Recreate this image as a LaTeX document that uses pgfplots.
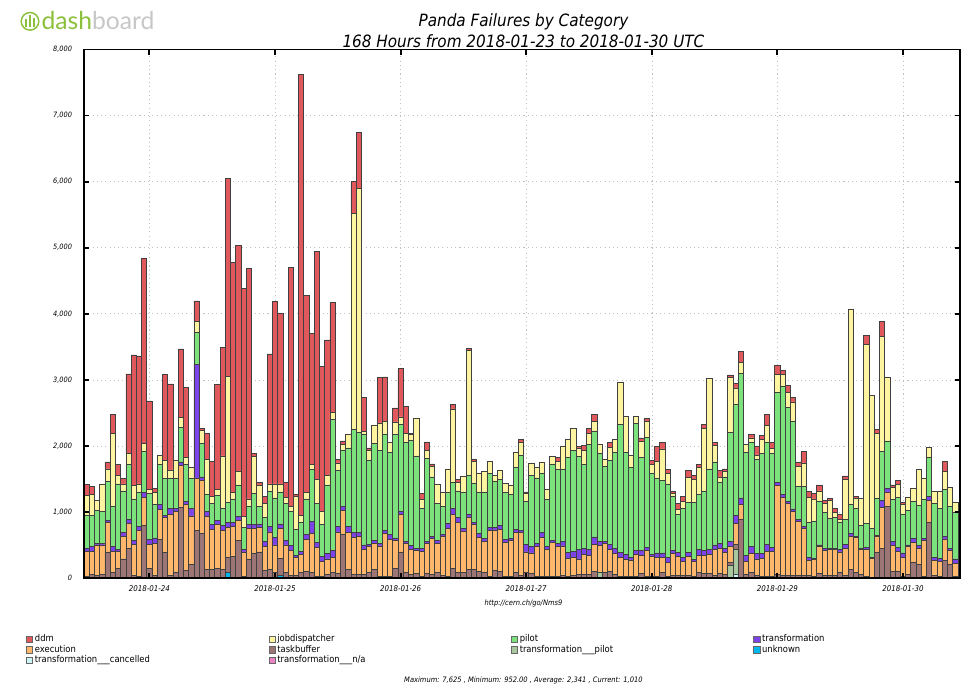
\documentclass[border=0pt]{standalone}
\usepackage{fontspec}
\setmainfont{DejaVu Sans Condensed}[ItalicFont={DejaVu Sans Condensed Oblique}]
\newfontfamily\logofont{Lato}
\usepackage{pgfplots}
\pgfplotsset{compat=1.18}
\usepackage{pgfplotstable}
\definecolor{cddm}{RGB}{224,88,92}
\definecolor{cexe}{RGB}{255,183,107}
\definecolor{cjob}{RGB}{255,245,160}
\definecolor{ctask}{RGB}{158,117,117}
\definecolor{cpil}{RGB}{124,226,124}
\definecolor{ctpil}{RGB}{170,200,160}
\definecolor{ctra}{RGB}{124,67,232}
\definecolor{cunk}{RGB}{0,183,235}
\definecolor{ctcan}{RGB}{204,246,245}
\definecolor{ctna}{RGB}{240,130,200}
\definecolor{logogreen}{RGB}{140,192,60}
\pgfplotsset{sq legend/.style={legend image code/.code={\draw[##1] (0pt,-2.3pt) rectangle (4.6pt,2.3pt);}},
  base/.style={at={(63pt,81pt)}, anchor=south west, scale only axis,
  width=657pt, height=396.4pt, enlargelimits=false,
  xmin=0, xmax=167.4, ymin=0, ymax=8000,
  xtick={12.5,36.5,60.5,84.5,108.5,132.5,156.5},
  ytick={0,1000,...,8000},
  major tick length=3.8pt,
  tick style={line width=1.4pt, black},
  axis line style={line width=0.9pt}}}
\pgfplotstableread{
x un tc tp tb ex tr pi jd ddm
0.5 0 0 0 20 380 42 512 290 174
1.5 0 0 0 53 354 69 475 317 121
2.5 0 0 0 37 464 26 501 148 0
3.5 0 0 0 53 449 26 475 422 0
4.5 0 0 0 396 449 26 591 190 106
5.5 0 0 0 79 327 69 607 1108 280
6.5 0 0 0 142 264 32 987 132 158
7.5 0 0 0 290 343 53 633 106 79
8.5 0 0 0 449 380 53 834 169 1203
9.5 0 0 0 37 475 58 628 200 1979
10.5 0 0 0 26 697 53 528 121 1937
11.5 0 0 0 792 422 79 617 132 2797
12.5 0 0 0 142 369 69 697 69 1335
13.5 0 0 0 42 485 79 512 174 63
14.5 0 0 0 580 464 74 596 148 0
15.5 0 0 0 385 528 37 554 274 1298
16.5 0 0 0 42 923 90 459 121 1303
17.5 0 0 0 90 913 53 449 274 0
18.5 0 0 0 1066 639 53 522 148 1040
19.5 0 0 0 121 997 42 554 116 1055
20.5 0 0 0 211 728 116 449 169 0
21.5 0 0 0 723 792 1720 485 169 306
22.5 0 0 0 675 802 53 512 190 26
23.5 0 0 0 132 802 69 264 528 396
24.5 0 0 0 132 607 69 327 95 538
25.5 0 0 0 142 675 53 380 95 1583
26.5 0 0 0 132 591 69 264 792 1636
27.5 79 0 0 237 449 79 301 1900 3008
28.5 0 0 0 332 443 69 354 95 3483
29.5 0 0 0 570 301 63 475 200 3419
30.5 0 0 0 26 369 42 327 169 3446
31.5 0 0 0 290 464 63 274 106 3488
32.5 0 0 0 369 385 63 464 565 37
33.5 0 0 0 396 369 53 264 327 32
34.5 0 0 0 121 354 79 369 211 106
35.5 0 0 0 132 565 79 533 116 1968
36.5 0 0 0 79 422 116 596 211 2760
37.5 37 0 0 264 454 63 485 121 2586
38.5 0 0 0 79 422 69 565 79 237
39.5 0 0 0 42 380 69 512 79 3615
40.5 0 0 0 37 269 37 396 491 37
41.5 0 0 0 79 280 47 438 106 6675
42.5 0 0 0 106 475 79 538 95 2981
43.5 0 0 0 79 591 190 786 79 1979
44.5 0 0 0 26 433 84 591 359 3451
45.5 0 0 0 26 227 79 475 195 2206
46.5 0 0 0 53 237 79 1040 148 2047
47.5 0 0 0 79 237 106 1979 106 1662
48.5 0 0 0 69 628 79 850 116 53
49.5 0 0 0 660 359 63 855 84 53
50.5 0 0 0 132 554 90 1193 211 0
51.5 0 0 0 53 565 69 1557 3272 485
52.5 0 0 0 53 580 53 1515 3694 844
53.5 0 0 0 53 385 63 1673 42 512
54.5 0 0 0 90 385 37 1266 158 32
55.5 0 0 0 132 396 42 1462 280 0
56.5 0 0 0 26 459 42 1398 422 686
57.5 0 0 0 26 649 47 1451 200 670
58.5 0 0 0 26 554 79 1240 148 11
59.5 0 0 0 142 422 42 1567 190 211
60.5 0 0 0 396 565 53 1309 116 728
61.5 0 0 0 79 449 26 1504 132 406
62.5 0 0 0 53 380 58 1594 90 16
63.5 0 0 0 69 354 26 1398 570 0
64.5 0 0 0 26 380 42 607 132 95
65.5 0 0 0 69 449 37 1251 121 132
66.5 0 0 0 53 544 37 897 158 37
67.5 0 0 0 79 449 37 570 290 0
68.5 0 0 0 42 591 26 422 211 0
69.5 0 0 0 26 728 74 464 359 0
70.5 0 0 0 142 823 90 396 1108 63
71.5 0 0 0 79 765 79 396 132 42
72.5 0 0 0 79 633 42 538 253 0
73.5 0 0 0 132 792 42 591 1884 32
74.5 0 0 0 132 675 37 596 327 26
75.5 0 0 0 106 512 53 633 280 0
76.5 0 0 0 79 475 42 707 306 0
77.5 0 0 0 26 697 42 818 185 0
78.5 0 0 0 121 607 37 697 95 0
79.5 0 0 0 106 633 53 702 142 0
80.5 0 0 0 26 517 37 712 142 0
81.5 0 0 0 26 538 32 670 142 0
82.5 0 0 0 79 607 53 934 227 0
83.5 0 0 0 42 644 37 1140 185 47
84.5 0 0 0 79 317 116 649 116 26
85.5 0 0 0 69 311 95 1082 185 0
86.5 0 0 0 26 449 53 987 164 0
87.5 0 0 0 26 591 69 897 174 0
88.5 0 0 0 26 412 37 712 158 0
89.5 0 0 0 26 517 26 1145 121 0
90.5 0 0 0 26 449 53 1124 116 53
91.5 0 0 0 42 443 69 1098 338 0
92.5 0 0 0 26 274 84 1435 280 0
93.5 0 0 0 37 269 100 1520 332 0
94.5 0 0 0 53 237 148 1398 132 21
95.5 0 0 0 53 306 90 1266 222 69
96.5 0 0 0 53 290 90 1583 174 69
97.5 0 0 0 106 406 111 1604 148 95
98.5 0 0 79 0 412 63 1335 127 0
99.5 0 0 0 79 449 26 1135 106 0
100.5 0 0 0 106 332 74 1272 195 69
101.5 0 0 0 53 317 79 1451 195 0
102.5 0 0 0 26 280 79 1937 644 0
103.5 0 0 0 26 253 79 1541 544 0
104.5 0 0 0 26 248 32 1367 190 0
105.5 0 0 0 26 327 69 1916 116 0
106.5 0 0 0 69 274 79 1398 253 47
107.5 0 0 0 26 396 37 1668 237 53
108.5 0 0 0 26 306 21 1230 142 53
109.5 0 0 0 26 290 63 1124 264 222
110.5 0 0 0 90 227 63 1098 475 95
111.5 0 0 0 26 211 79 1108 158 63
112.5 0 0 0 37 332 53 807 53 26
113.5 0 0 0 42 290 53 580 74 95
114.5 0 0 0 42 211 53 749 106 79
115.5 0 0 0 42 285 58 760 375 106
116.5 0 0 0 26 227 26 865 343 69
117.5 0 0 0 90 253 90 834 406 42
118.5 0 0 0 69 274 79 897 939 63
119.5 0 0 0 69 290 79 1214 1372 0
120.5 0 0 0 42 396 63 1256 248 42
121.5 0 0 0 69 380 79 913 90 95
122.5 0 0 0 53 332 63 1082 79 42
123.5 0 0 195 42 237 79 1646 834 42
124.5 0 53 385 74 317 121 1673 253 63
125.5 0 0 0 881 237 95 1884 164 169
126.5 0 0 0 53 201 90 1557 121 0
127.5 0 0 0 79 290 106 1583 63 53
128.5 0 0 0 42 248 79 1425 69 127
129.5 0 0 0 26 274 69 1515 216 63
130.5 0 0 0 26 380 106 1546 248 164
131.5 0 0 0 26 380 53 1425 79 95
132.5 0 0 0 53 1346 53 1361 264 142
133.5 0 0 0 42 1182 42 1636 174 63
134.5 0 0 0 42 1092 26 1425 227 106
135.5 0 0 0 42 971 32 1319 301 69
136.5 0 0 0 42 818 26 496 306 69
137.5 0 0 0 42 707 26 612 354 169
138.5 0 0 0 42 222 42 538 380 84
139.5 0 0 0 26 253 26 549 343 84
140.5 0 0 0 69 406 26 660 158 90
141.5 0 0 0 42 380 26 544 132 47
142.5 0 0 0 42 390 16 449 274 32
143.5 0 0 0 42 390 16 464 79 63
144.5 0 0 0 79 317 37 412 42 79
145.5 0 0 0 42 406 63 375 607 53
146.5 0 0 0 132 501 37 438 2966 0
147.5 0 0 0 79 538 10 422 158 26
148.5 0 0 0 53 385 10 354 406 0
149.5 0 0 0 26 412 21 369 2707 132
150.5 0 0 0 10 290 10 449 2005 0
151.5 0 0 0 396 237 10 565 976 69
152.5 0 0 0 449 623 106 733 1747 222
153.5 0 0 0 1082 222 58 712 960 0
154.5 0 0 0 106 385 63 633 185 37
155.5 0 0 0 95 311 58 760 190 63
156.5 0 0 0 26 280 74 586 153 26
157.5 0 0 0 53 422 26 528 185 0
158.5 0 0 0 237 306 53 565 195 0
159.5 0 0 0 211 237 42 607 549 0
160.5 0 0 0 26 544 26 602 317 0
161.5 0 0 0 844 332 63 580 158 0
162.5 0 0 0 42 222 42 828 185 0
163.5 0 0 0 26 227 47 755 253 0
164.5 0 0 0 264 327 42 712 264 158
165.5 0 0 0 211 211 26 633 290 0
166.5 0 0 0 30 190 69 712 142 0
167.5 0 0 0 0 211 53 746 0 0
}\data
\begin{document}
\begin{tikzpicture}
\useasboundingbox (0,0) rectangle (721.5pt,514.5pt);
% logo
\draw[logogreen, line width=1.1pt] (22.5pt,498.5pt) circle (6.6pt);
\draw[logogreen, line width=1.1pt] (19.5pt,494pt) -- (19.5pt,500pt) (22.5pt,494pt) -- (22.5pt,503pt) (25.5pt,494pt) -- (25.5pt,501pt);
\node[anchor=base west, inner sep=0pt, font=\logofont\fontsize{18.5}{20}\selectfont] at (31pt,492pt) {\textcolor{logogreen}{dash}\textcolor{black!22}{board}};
% titles
\node[font=\fontsize{12.7}{14}\selectfont\itshape] at (392.6pt,498.4pt) {Panda Failures by Category};
\node[font=\fontsize{12.7}{14}\selectfont\itshape] at (392.6pt,483.6pt) {168 Hours from 2018-01-23 to 2018-01-30 UTC};
\node[font=\fontsize{5.6}{6}\selectfont\itshape] at (392.6pt,62.25pt) {http://cern.ch/go/Nms9};
\node[font=\fontsize{5.6}{6}\selectfont\itshape] at (392.6pt,4pt) {Maximum: 7,625 , Minimum: 952.00 , Average: 2,341 , Current: 1,010};
\begin{axis}[
  base,
  ybar stacked, bar width=1,
  xticklabels={2018-01-24,2018-01-25,2018-01-26,2018-01-27,2018-01-28,2018-01-29,2018-01-30},
  scaled y ticks=false,
  /pgf/number format/assume math mode=true,
  yticklabel={\pgfmathprintnumber[fixed,1000 sep={,}]{\tick}},
  tick label style={font=\fontsize{5.5}{6}\selectfont\itshape},
  xticklabel style={yshift=-2.5pt, font=\fontsize{5.9}{6}\selectfont\itshape},
  yticklabel style={xshift=-5.5pt},
  grid=major,
  major grid style={black!25, line width=0.4pt, dash pattern=on 0.8pt off 2.4pt},
  every axis plot/.append style={draw=black!75, line width=0.5pt},
  legend columns=4,
  legend cell align=left,
  legend style={at={(-0.0662,-0.106)}, anchor=north west, draw=none, fill=none,
    inner sep=0pt, font=\fontsize{7}{8}\selectfont, row sep=0.2pt,
    nodes={inner xsep=1.5pt, inner ysep=0.4pt}},
]
\addplot[fill=cunk, forget plot] table[x=x,y=un]{\data};
\addplot[fill=ctcan, forget plot] table[x=x,y=tc]{\data};
\addplot[fill=ctpil, forget plot] table[x=x,y=tp]{\data};
\addplot[fill=ctask, forget plot] table[x=x,y=tb]{\data};
\addplot[fill=cexe, forget plot] table[x=x,y=ex]{\data};
\addplot[fill=ctra, forget plot] table[x=x,y=tr]{\data};
\addplot[fill=cpil, forget plot] table[x=x,y=pi]{\data};
\addplot[fill=cjob, forget plot] table[x=x,y=jd]{\data};
\addplot[fill=cddm, forget plot] table[x=x,y=ddm]{\data};
\addlegendimage{sq legend, fill=cddm, draw=black!60, line width=0.4pt}
\addlegendentry{\makebox[173.8pt][l]{ddm}}
\addlegendimage{sq legend, fill=cjob, draw=black!60, line width=0.4pt}
\addlegendentry{\makebox[173.8pt][l]{jobdispatcher}}
\addlegendimage{sq legend, fill=cpil, draw=black!60, line width=0.4pt}
\addlegendentry{\makebox[173.8pt][l]{pilot}}
\addlegendimage{sq legend, fill=ctra, draw=black!60, line width=0.4pt}
\addlegendentry{\makebox[150pt][l]{transformation}}
\addlegendimage{sq legend, fill=cexe, draw=black!60, line width=0.4pt}
\addlegendentry{\makebox[173.8pt][l]{execution}}
\addlegendimage{sq legend, fill=ctask, draw=black!60, line width=0.4pt}
\addlegendentry{\makebox[173.8pt][l]{taskbuffer}}
\addlegendimage{sq legend, fill=ctpil, draw=black!60, line width=0.4pt}
\addlegendentry{\makebox[173.8pt][l]{transformation\_\_\_pilot}}
\addlegendimage{sq legend, fill=cunk, draw=black!60, line width=0.4pt}
\addlegendentry{\makebox[150pt][l]{unknown}}
\addlegendimage{sq legend, fill=ctcan, draw=black!60, line width=0.4pt}
\addlegendentry{\makebox[173.8pt][l]{transformation\_\_\_cancelled}}
\addlegendimage{sq legend, fill=ctna, draw=black!60, line width=0.4pt}
\addlegendentry{\makebox[173.8pt][l]{transformation\_\_\_n/a}}
\end{axis}
\begin{axis}[base, xticklabels={}, yticklabels={}]
\end{axis}
\end{tikzpicture}
\end{document}
